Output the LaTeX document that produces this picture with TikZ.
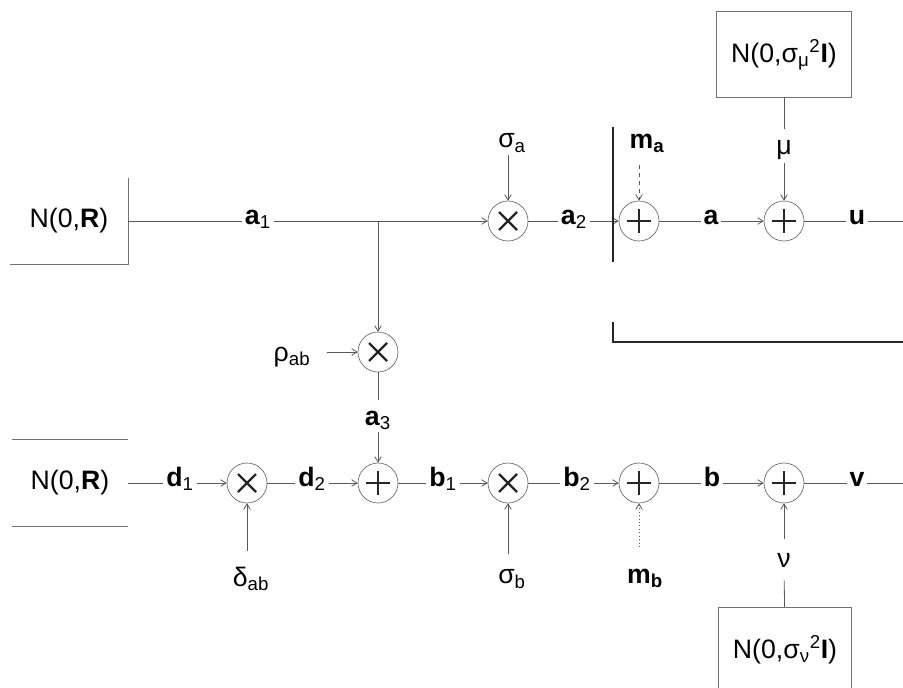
\documentclass[tikz,border=0pt]{standalone}
\usepackage{fontspec}
\setmainfont{Liberation Sans}
\usetikzlibrary{arrows.meta,positioning,calc}
\tikzset{
  circ/.style={circle, draw=black!60, line width=0.5pt, minimum size=30pt, inner sep=0pt},
  mulc/.style={circ, path picture={
      \draw[line width=1.7pt, black!85]
        ($(path picture bounding box.center)+(-9,-9)$) -- ($(path picture bounding box.center)+(9,9)$)
        ($(path picture bounding box.center)+(-9,9)$) -- ($(path picture bounding box.center)+(9,-9)$);}},
  addc/.style={circ, path picture={
      \draw[line width=1.7pt, black!85]
        ($(path picture bounding box.center)+(-12,0)$) -- ($(path picture bounding box.center)+(12,0)$)
        ($(path picture bounding box.center)+(0,-12)$) -- ($(path picture bounding box.center)+(0,12)$);}},
  srcbox/.style={rectangle, inner sep=0pt, align=center, font=\fontsize{20}{24}\selectfont},
  edgeln/.style={draw=black!55, line width=0.5pt},
  lbl/.style={font=\fontsize{20}{24}\selectfont, inner sep=2pt, anchor=mid},
  vlbl/.style={lbl, anchor=center},
  ln/.style={draw=black!65, line width=0.6pt},
  ar/.style={ln, -{Straight Barb[length=4pt,width=5pt]}},
  bar/.style={draw=black!85, line width=0.9pt},
}
\newcommand{\bsub}[2]{\textbf{#1}\textsubscript{#2}}

\begin{document}
\begin{tikzpicture}[x=0.75pt,y=-0.75pt]
\useasboundingbox (0,0) rectangle (903,688);

% ===================== TOP ROW: a =====================
\node[srcbox, minimum width=88.5pt, minimum height=64.5pt] (nR1) at (69,221) {N(0,\textbf{R})};
\draw[edgeln] (nR1.north east) -- (nR1.south east) -- (nR1.south west);
\node[lbl] (a1) at (258,221) {\bsub{a}{1}};
\coordinate (split) at (378,221);
\node[mulc] (mA) at (508,221) {};
\node[lbl] (a2) at (574,221) {\bsub{a}{2}};
\node[addc] (pA) at (639,221) {};
\node[lbl] (a0) at (711,221) {\textbf{a}};
\node[addc] (pMu) at (784,221) {};
\node[lbl] (u) at (857,221) {\textbf{u}};
\coordinate (uend) at (903,221);

\node[vlbl] (sa) at (512,143) {σ\textsubscript{a}};
\node[vlbl] (ma) at (647,143) {\textbf{m\textsubscript{a}}};
\node[vlbl] (mu) at (784,150) {μ};
\node[srcbox, minimum width=100.5pt, minimum height=63.75pt] (nMu) at (784,54.5)
  {N(0,σ\textsubscript{μ}\textsuperscript{2}\textbf{I})};
\draw[edgeln] (nMu.south west) rectangle (nMu.north east);

\draw[ln] (nR1) -- (a1.mid west);
\draw[ar] (a1.mid east) -- (mA);
\draw[ar] (sa.south -| mA) -- (mA);
\draw[ln] (mA) -- (a2.mid west);
\draw[ar] (a2.mid east) -- (pA);
\draw[ar, dashed, shorten <=7pt] (ma.south -| pA) -- (pA);
\draw[ln] (pA) -- (a0.mid west);
\draw[ar] (a0.mid east) -- (pMu);
\draw[ln, shorten >=6pt] (nMu) -- (mu);
\draw[ar] (mu) -- (pMu);
\draw[ln] (pMu) -- (u.mid west);
\draw[ln] (u.mid east) -- (uend);

% output bracket
\draw[bar] (613,127) -- (613,262);
\draw[bar] (613,322) -- (613,342) -- (903,342);

% ===================== CORRELATION BRANCH =====================
\node[mulc] (mR) at (378,352) {};
\node[vlbl] (rho) at (292,357) {ρ\textsubscript{ab}};
\node[vlbl] (a3) at (378,420) {\bsub{a}{3}};
\draw[ar] (split) -- (mR);
\draw[ar, shorten <=10pt] (rho.east |- mR) -- (mR);
\draw[ln, shorten >=6pt] (mR) -- (a3.north -| mR);

% ===================== BOTTOM ROW: b =====================
\node[srcbox, minimum width=87pt, minimum height=64.5pt] (nR2) at (70,483) {N(0,\textbf{R})};
\draw[edgeln] (nR2.north west) -- (nR2.north east);
\draw[edgeln] (nR2.south west) -- (nR2.south east);
\node[lbl] (d1) at (180,483) {\bsub{d}{1}};
\node[mulc] (mD) at (247,483) {};
\node[lbl] (d2) at (312,483) {\bsub{d}{2}};
\node[addc] (pC) at (378,483) {};
\node[lbl] (b1) at (443,483) {\bsub{b}{1}};
\node[mulc] (mB) at (508,483) {};
\node[lbl] (b2) at (577,483) {\bsub{b}{2}};
\node[addc] (pB) at (639,483) {};
\node[lbl] (b0) at (712,483) {\textbf{b}};
\node[addc] (pNu) at (784,483) {};
\node[lbl] (v) at (857,483) {\textbf{v}};
\coordinate (vend) at (903,483);

\node[vlbl] (dab) at (251,579) {δ\textsubscript{ab}};
\node[vlbl] (sb) at (512,579) {σ\textsubscript{b}};
\node[vlbl] (mb) at (645,578) {\textbf{m\textsubscript{b}}};
\node[vlbl] (nu) at (784,560) {ν};
\node[srcbox, minimum width=99pt, minimum height=63.75pt] (nNu) at (785,650)
  {N(0,σ\textsubscript{ν}\textsuperscript{2}\textbf{I})};
\draw[edgeln] (nNu.south west) -- (nNu.north west) -- (nNu.north east) -- (nNu.south east);

\draw[ar] (a3.south -| pC) -- (pC);
\draw[ln] (nR2) -- (d1.mid west);
\draw[ar] (d1.mid east) -- (mD);
\draw[ar, shorten <=10pt] (dab.north -| mD) -- (mD);
\draw[ln] (mD) -- (d2.mid west);
\draw[ar] (d2.mid east) -- (pC);
\draw[ln] (pC) -- (b1.mid west);
\draw[ar] (b1.mid east) -- (mB);
\draw[ar, shorten <=10pt] (sb.north -| mB) -- (mB);
\draw[ln] (mB) -- (b2.mid west);
\draw[ar] (b2.mid east) -- (pB);
\draw[ar, dotted, shorten <=14pt] (mb.north -| pB) -- (pB);
\draw[ln] (pB) -- (b0.mid west);
\draw[ar] (b0.mid east) -- (pNu);
\draw[ln, shorten >=8pt] (nNu) -- (nu);
\draw[ar, shorten <=8pt] (nu) -- (pNu);
\draw[ln] (pNu) -- (v.mid west);
\draw[ln] (v.mid east) -- (vend);

\end{tikzpicture}
\end{document}
